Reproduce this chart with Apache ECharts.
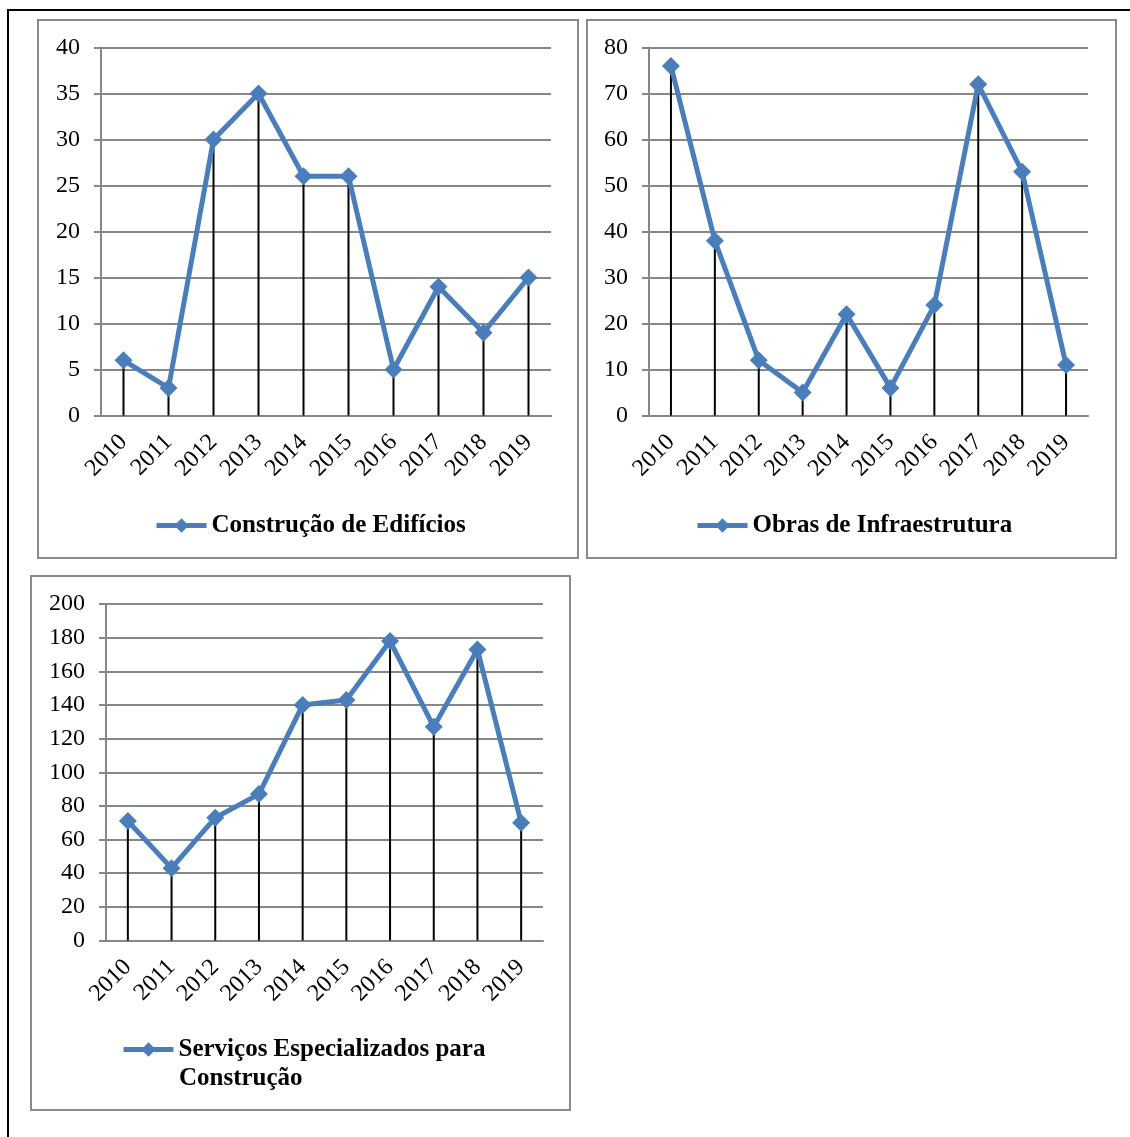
<!DOCTYPE html>
<html>
<head>
<meta charset="utf-8">
<script src="https://cdn.jsdelivr.net/npm/echarts@6/dist/echarts.min.js"></script>
<style>
  html, body { margin: 0; padding: 0; background: #fff; }
  #show { width: 1130px; height: 1137px; }
</style>
</head>
<body>
<div id="show"></div>
<script>
var myChart = echarts.init(document.getElementById("show"));

var anos = ['2010', '2011', '2012', '2013', '2014', '2015', '2016', '2017', '2018', '2019'];
var edificios = [6, 3, 30, 35, 26, 26, 5, 14, 9, 15];
var infraestrutura = [76, 38, 12, 5, 22, 6, 24, 72, 53, 11];
var especializados = [71, 43, 73, 87, 140, 143, 178, 127, 173, 70];

var nomes = ['Construção de Edifícios', 'Obras de Infraestrutura', 'Serviços Especializados para Construção'];

var azul = '#4a7ebb';
var cinza = '#878787';
var fonte = '"Liberation Serif", "Times New Roman", serif';
var losango = 'path://M0,-1L1,0L0,1L-1,0Z';

// onde fica cada grafico
var grids = [
    { left: 101, right: 579, top: 47.5, bottom: 721.5 },
    { left: 649, right: 42, top: 47.5, bottom: 721.5 },
    { left: 106, right: 587, top: 604, bottom: 196.5 }
];
var maximos = [40, 80, 200];
var passos = [5, 10, 20];
var dados = [edificios, infraestrutura, especializados];

var xAxes = [], yAxes = [], series = [];
grids.forEach(function (g, i) {
    g.outerBoundsMode = 'none';
    xAxes.push({
        type: 'category',
        gridIndex: i,
        data: anos,
        boundaryGap: true,
        axisLine: { lineStyle: { color: cinza, width: 2 } },
        axisTick: { show: false },
        axisLabel: {
            rotate: 45,
            margin: 23,
            interval: 0,
            color: '#000',
            fontFamily: fonte,
            fontSize: 24
        }
    });
    yAxes.push({
        type: 'value',
        gridIndex: i,
        min: 0,
        max: maximos[i],
        interval: passos[i],
        axisLine: { show: true, lineStyle: { color: cinza, width: 2 } },
        axisTick: { show: true, length: 7, lineStyle: { color: cinza, width: 2 } },
        splitLine: { lineStyle: { color: cinza, width: 2 } },
        axisLabel: {
            margin: 21,
            color: '#000',
            fontFamily: fonte,
            fontSize: 24
        }
    });
    // linhas de chamada (drop lines)
    series.push({
        type: 'bar',
        xAxisIndex: i,
        yAxisIndex: i,
        data: dados[i],
        barWidth: 2,
        itemStyle: { color: '#000' },
        silent: true,
        z: 1
    });
    series.push({
        type: 'line',
        name: nomes[i],
        xAxisIndex: i,
        yAxisIndex: i,
        data: dados[i],
        symbol: losango,
        symbolSize: 18,
        lineStyle: { color: azul, width: 5 },
        itemStyle: { color: azul },
        z: 3
    });
});

var legendaTexto = {
    color: '#000',
    fontFamily: fonte,
    fontSize: 25,
    fontWeight: 'bold'
};

function legenda(nome, x, y, texto) {
    return {
        data: [nome], left: x, top: y, padding: 0,
        itemWidth: 50, itemHeight: 18,
        lineStyle: { width: 5 },
        formatter: texto ? function () { return texto; } : null,
        textStyle: legendaTexto
    };
}

myChart.setOption(option = {
    animation: false,
    backgroundColor: '#fff',
    grid: grids,
    xAxis: xAxes,
    yAxis: yAxes,
    series: series,
    legend: [
        legenda(nomes[0], 154, 513),
        legenda(nomes[1], 695, 513),
        legenda(nomes[2], 121, 1037, 'Serviços Especializados para')
    ],
    graphic: [
        { type: 'polyline', shape: { points: [[8, 1137], [8, 10], [1130, 10]] }, style: { stroke: '#000', lineWidth: 2, fill: null } },
        { type: 'rect', shape: { x: 38, y: 20, width: 540, height: 538 }, style: { stroke: '#8a8a8a', lineWidth: 2, fill: null } },
        { type: 'rect', shape: { x: 587, y: 20, width: 529, height: 538 }, style: { stroke: '#8a8a8a', lineWidth: 2, fill: null } },
        { type: 'rect', shape: { x: 31, y: 576, width: 539, height: 534 }, style: { stroke: '#8a8a8a', lineWidth: 2, fill: null } },
        // segunda linha do nome da legenda
        { type: 'text', left: 179, top: 1066, style: { text: 'Construção', font: 'bold 25px ' + fonte, fill: '#000' } }
    ]
});
</script>
</body>
</html>
